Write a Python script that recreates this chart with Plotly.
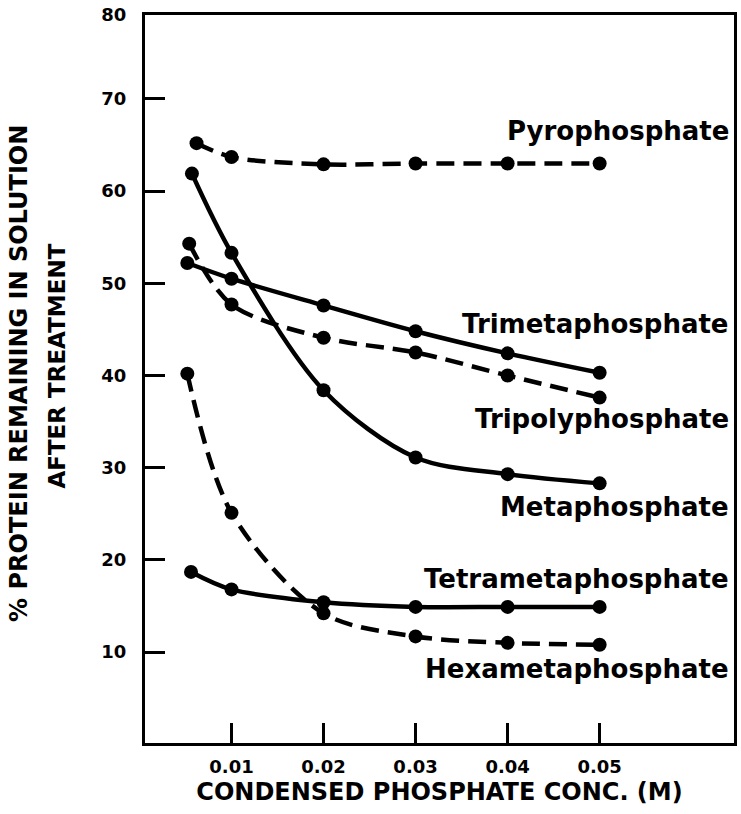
import plotly.graph_objects as go

# ---- data ----
series_names = ["Pyrophosphate", "Trimetaphosphate", "Tripolyphosphate",
                "Metaphosphate", "Tetrametaphosphate", "Hexametaphosphate"]

pyro_x = [0.0062, 0.01, 0.02, 0.03, 0.04, 0.05]
pyro_y = [65.2, 63.7, 62.9, 63.0, 63.0, 63.0]

trimeta_x = [0.0052, 0.01, 0.02, 0.03, 0.04, 0.05]
trimeta_y = [52.2, 50.5, 47.6, 44.8, 42.4, 40.3]

tripoly_x = [0.0054, 0.01, 0.02, 0.03, 0.04, 0.05]
tripoly_y = [54.3, 47.7, 44.1, 42.5, 40.0, 37.6]

meta_x = [0.0057, 0.01, 0.02, 0.03, 0.04, 0.05]
meta_y = [61.9, 53.3, 38.4, 31.1, 29.3, 28.3]

tetra_x = [0.0056, 0.01, 0.02, 0.03, 0.04, 0.05]
tetra_y = [18.7, 16.8, 15.4, 14.9, 14.9, 14.9]

hexa_x = [0.0052, 0.01, 0.02, 0.03, 0.04, 0.05]
hexa_y = [40.2, 25.1, 14.2, 11.7, 11.0, 10.8]

x_tick_vals = [0.01, 0.02, 0.03, 0.04, 0.05]
x_tick_text = ["0.01", "0.02", "0.03", "0.04", "0.05"]
y_tick_text = ["10", "20", "30", "40", "50", "60", "70", "80"]

x_title = "CONDENSED PHOSPHATE CONC. (M)"
y_title_lines = ["% PROTEIN REMAINING IN SOLUTION", "AFTER TREATMENT"]

# ---- styling / layout ----
X_RANGE = [0.0006, 0.0646]
Y_RANGE = [0.14, 79.1]
y_tick_vals = [10, 20, 30, 40, 50, 60, 70, Y_RANGE[1]]

FONT = "DejaVu Sans"
DASH = "18px,9px"
LW = 4.5
MS = 14

series = [
    (pyro_x, pyro_y, DASH),
    (trimeta_x, trimeta_y, "solid"),
    (tripoly_x, tripoly_y, DASH),
    (meta_x, meta_y, "solid"),
    (tetra_x, tetra_y, "solid"),
    (hexa_x, hexa_y, DASH),
]

# label placement (data coords, right-anchored)
label_x = 0.0643
label_y = [66.5, 45.6, 35.3, 25.7, 17.9, 8.2]

fig = go.Figure()
for name, (xs, ys, dash) in zip(series_names, series):
    fig.add_trace(go.Scatter(
        x=xs, y=ys, name=name, mode="lines+markers",
        line=dict(color="black", width=LW, dash=dash, shape="spline", smoothing=0.9),
        marker=dict(color="black", size=MS),
        showlegend=False,
    ))

annotations = []
for name, ly in zip(series_names, label_y):
    annotations.append(dict(
        x=label_x, y=ly, xref="x", yref="y", text=name, showarrow=False,
        xanchor="right", yanchor="middle",
        font=dict(family=FONT, size=26, color="black", weight="bold"),
    ))

annotations.append(dict(
    x=0, y=0.507, xref="paper", yref="paper", text=y_title_lines[0],
    showarrow=False, textangle=-90, xanchor="center", yanchor="middle",
    xshift=-126, font=dict(family=FONT, size=24, color="black", weight="bold"),
))
annotations.append(dict(
    x=0, y=0.517, xref="paper", yref="paper", text=y_title_lines[1],
    showarrow=False, textangle=-90, xanchor="center", yanchor="middle",
    xshift=-88, font=dict(family=FONT, size=23, color="black", weight="bold"),
))

fig.update_layout(
    width=741, height=814,
    margin=dict(l=145, r=4, t=14, b=71),
    paper_bgcolor="white", plot_bgcolor="white",
    annotations=annotations,
    xaxis=dict(
        range=X_RANGE, tickvals=x_tick_vals, ticktext=x_tick_text,
        ticks="inside", ticklen=20, tickwidth=3, tickcolor="black",
        showline=True, linecolor="black", linewidth=3, mirror=True,
        showgrid=False, zeroline=False,
        tickfont=dict(family=FONT, size=18, color="black", weight="bold"),
        ticklabelstandoff=5,
        title=dict(text=x_title, standoff=8,
                   font=dict(family=FONT, size=24, color="black", weight="bold")),
    ),
    yaxis=dict(
        range=Y_RANGE, tickvals=y_tick_vals, ticktext=y_tick_text,
        ticks="inside", ticklen=20, tickwidth=3, tickcolor="black",
        showline=True, linecolor="black", linewidth=3, mirror=True,
        showgrid=False, zeroline=False,
        tickfont=dict(family=FONT, size=18, color="black", weight="bold"),
        ticklabelstandoff=12,
    ),
)

fig.write_html("out.html")
